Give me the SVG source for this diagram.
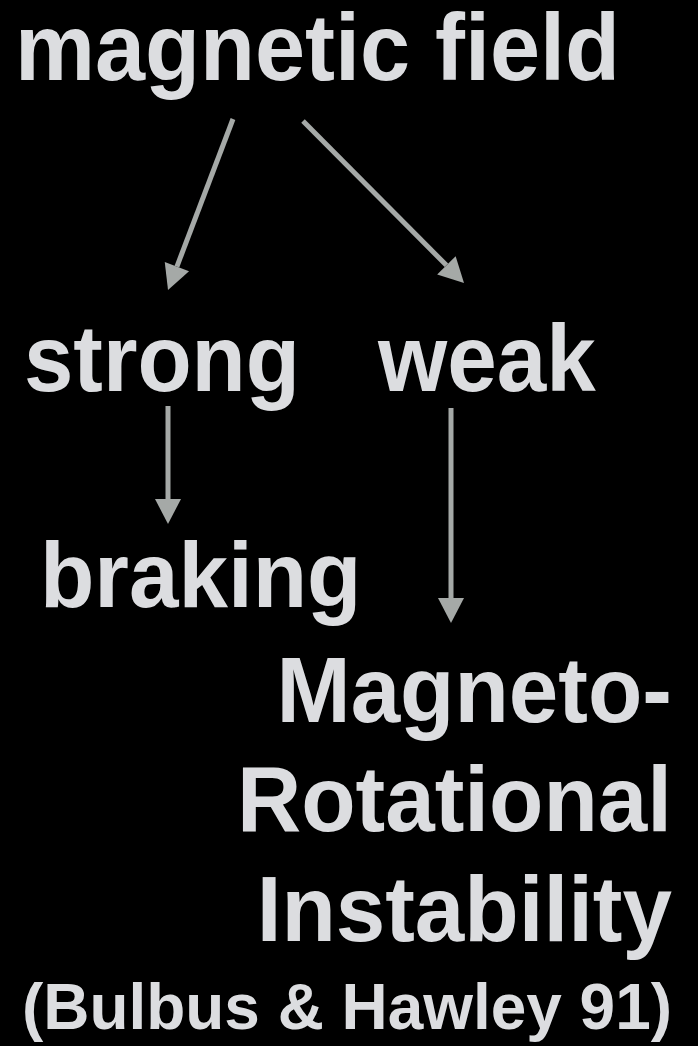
<svg xmlns="http://www.w3.org/2000/svg" width="698" height="1046" viewBox="0 0 698 1046">
<style>
text{font-family:"Liberation Sans",Arial,Helvetica,sans-serif;font-weight:bold;fill:#dcdde0;font-size:89px}
.r{text-anchor:end}
.c{stroke:#a5a9a7;stroke-width:5;fill:none}
</style>
<defs>
<marker id="ah" markerUnits="userSpaceOnUse" markerWidth="26" markerHeight="26" refX="0" refY="13" orient="auto" viewBox="0 0 26 26" overflow="visible">
<path d="M0,0 L25,13 L0,26 z" fill="#a5a9a7"/>
</marker>
</defs>
<rect width="698" height="1046" fill="#000"/>
<g id="n-field"><text transform="translate(15,80) scale(1,1.06)" textLength="605" lengthAdjust="spacingAndGlyphs">magnetic field</text></g>
<g id="n-strong"><text transform="translate(24,391) scale(1,1.06)" textLength="276" lengthAdjust="spacingAndGlyphs">strong</text></g>
<g id="n-weak"><text transform="translate(378,391) scale(1,1.06)">weak</text></g>
<g id="n-braking"><text transform="translate(40,607) scale(1,1.04)">braking</text></g>
<g id="n-mri">
<text class="r" transform="translate(672,721.5) scale(1,1.05)">Magneto-</text>
<text class="r" transform="translate(672,830.5) scale(1,1.04)">Rotational</text>
<text class="r" transform="translate(672,940.5) scale(1,1.04)">Instability</text>
<text class="r" x="672" y="1029" style="font-size:64px" textLength="650" lengthAdjust="spacingAndGlyphs">(Bulbus &amp; Hawley 91)</text>
</g>
<g id="connectors">
<line class="c" x1="233" y1="119" x2="176.9" y2="266.6" marker-end="url(#ah)"/>
<line class="c" x1="303" y1="121" x2="446.4" y2="265.3" marker-end="url(#ah)"/>
<line class="c" x1="168" y1="406" x2="168" y2="499" marker-end="url(#ah)"/>
<line class="c" x1="451" y1="408" x2="451" y2="598" marker-end="url(#ah)"/>
</g>
</svg>
